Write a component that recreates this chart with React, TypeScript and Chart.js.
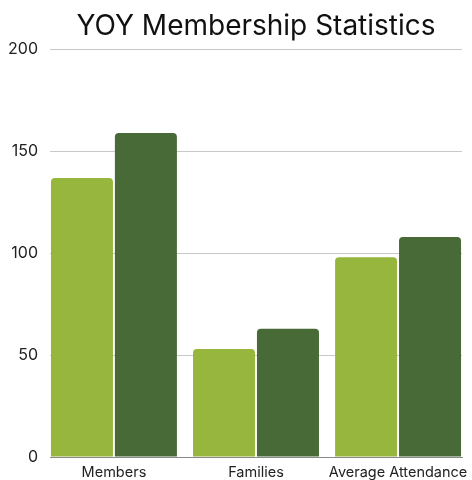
import React, { useEffect, useRef } from "react";
import { Chart, registerables } from "chart.js";
Chart.register(...registerables);

const categories = ["Members", "Families", "Average Attendance"];
const lastYear = [137, 53, 98];
const thisYear = [159, 63, 108];
const yTickValues = [0, 50, 100, 150, 200];
const titleText = "YOY Membership Statistics";

export default function App() {
  const ref = useRef<HTMLCanvasElement | null>(null);
  useEffect(() => {
    document.body.style.margin = "0";
    const ctx = ref.current!;
    const chart = new Chart(ctx, {
      type: "bar",
      data: {
        datasets: [
          {
            label: "Last Year",
            data: lastYear.map((v, i) => ({ x: i, y: v })),
            backgroundColor: "#96b63e",
            borderRadius: 4,
            categoryPercentage: 0.9,
            barPercentage: 0.97,
          },
          {
            label: "This Year",
            data: thisYear.map((v, i) => ({ x: i, y: v })),
            backgroundColor: "#476a37",
            borderRadius: 4,
            categoryPercentage: 0.9,
            barPercentage: 0.97,
          },
        ],
      },
      options: {
        animation: false,
        responsive: false,
        maintainAspectRatio: false,
        layout: { padding: { left: 9, right: 10, top: 0, bottom: 0 } },
        plugins: {
          legend: { display: false },
          tooltip: { enabled: false },
          title: {
            display: true,
            fullSize: false,
            text: titleText,
            color: "#111",
            font: { family: "Inter", size: 28, weight: "normal" },
            padding: { top: 10, bottom: 6 },
          },
        },
        scales: {
          x: {
            type: "linear",
            min: -0.45,
            max: 2.45,
            offset: false,
            grid: { display: false, drawTicks: false },
            border: { display: true, color: "#8a8a8a", width: 1 },
            afterBuildTicks: (scale: any) => {
              scale.ticks = categories.map((_, i) => ({ value: i }));
            },
            afterFit: (scale: any) => {
              scale.height = 23;
              scale.paddingLeft = 0;
              scale.paddingRight = 0;
            },
            ticks: {
              autoSkip: false,
              maxRotation: 0,
              color: "#222",
              padding: 7,
              font: { family: "Inter", size: 14.5 },
              callback: (v: any) => categories[v as number] ?? "",
            },
          },
          y: {
            min: 0,
            max: 200,
            afterBuildTicks: (scale: any) => {
              scale.ticks = yTickValues.map((v) => ({ value: v }));
            },
            afterFit: (scale: any) => {
              scale.width = 41;
              scale.paddingTop = 0;
              scale.paddingBottom = 0;
            },
            grid: { color: "#c8c8c8", drawTicks: false },
            border: { display: false },
            ticks: {
              color: "#222",
              padding: 12,
              font: { family: "Inter", size: 16 },
            },
          },
        },
      },
    } as any);
    return () => chart.destroy();
  }, []);
  return (
    <div style={{ width: 472, height: 480 }}>
      <canvas ref={ref} width={472} height={480} />
    </div>
  );
}
